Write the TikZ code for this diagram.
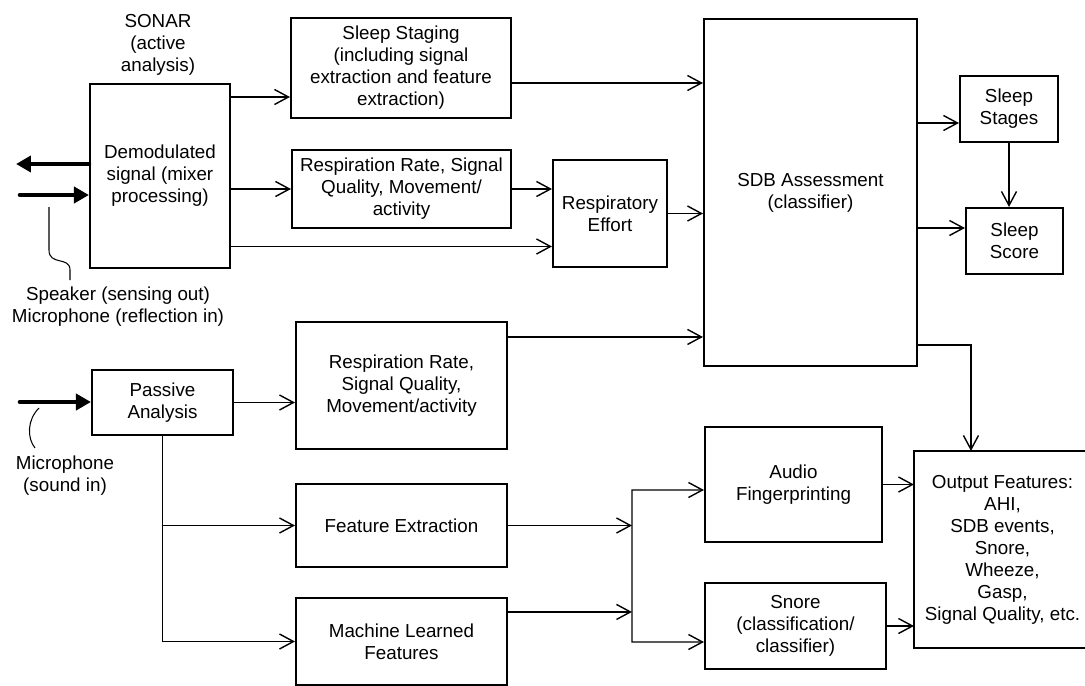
\documentclass[tikz,border=0pt]{standalone}
\usepackage{fontspec}
\setmainfont{Liberation Sans}
\usetikzlibrary{positioning, arrows.meta, calc}

\begin{document}
\begin{tikzpicture}[
    x=0.02cm, y=-0.02cm,
    font=\fontsize{10.7}{12.5}\selectfont,
    block/.style={
        draw,
        line width=1.2pt,
        align=center,
        inner sep=2pt
    },
    openblock/.style={
        block,
        draw=none
    },
    link/.style={
        >={Straight Barb[length=2.8mm, width=3mm]},
        ->,
        line width=0.8pt
    },
    frame/.style={
        line width=1.2pt
    },
    fatarrow/.style={
        >={Triangle[length=3mm, width=3.2mm]},
        ->,
        line width=2.6pt,
        line cap=round
    },
    leader/.style={
        line width=0.6pt
    }
]
    \useasboundingbox (0,0) rectangle (1085,686);

    % Nodes
    \node[align=center] (sonar) at (158,45) {SONAR\\(active\\analysis)};
    \node[block, minimum width=2.8cm, minimum height=3.68cm] (demod) at (160,176) {Demodulated\\signal (mixer\\processing)};
    \node[block, minimum width=4.4cm, minimum height=2cm] (staging) at (401,68) {Sleep Staging\\(including signal\\extraction and feature\\extraction)};
    \node[block, minimum width=4.38cm, minimum height=1.56cm] (resp1) at (401.5,189) {Respiration Rate, Signal\\Quality, Movement/\\activity};
    \node[block, minimum width=2.28cm, minimum height=2.14cm] (effort) at (610,213.5) {Respiratory\\Effort};
    \node[block, minimum width=4.26cm, minimum height=6.94cm] (sdb) at (810.5,192.5) {SDB Assessment\\(classifier)};
    \node[block, minimum width=1.96cm, minimum height=1.32cm] (stages) at (1009,109) {Sleep\\Stages};
    \node[block, minimum width=1.94cm, minimum height=1.32cm] (score) at (1014.5,241) {Sleep\\Score};

    \node[block, minimum width=2.82cm, minimum height=1.3cm] (passive) at (162.5,402.5) {Passive\\Analysis};
    \node[block, minimum width=4.22cm, minimum height=2.54cm] (resp2) at (401.5,385.5) {Respiration Rate,\\Signal Quality,\\Movement/activity};
    \node[block, minimum width=4.22cm, minimum height=1.66cm] (featx) at (401.5,525.5) {Feature Extraction};
    \node[block, minimum width=4.22cm, minimum height=1.74cm] (mlf) at (401.5,641.5) {Machine Learned\\Features};
    \node[block, minimum width=3.54cm, minimum height=2.3cm] (audio) at (793.5,484.5) {Audio\\Fingerprinting};
    \node[block, minimum width=3.62cm, minimum height=1.72cm] (snore) at (795.5,626) {Snore\\(classification/\\classifier)};
    \node[openblock, minimum width=3.5cm, minimum height=3.9cm] (output) at (1002.5,549.5) {Output Features:\\AHI,\\SDB events,\\Snore,\\Wheeze,\\Gasp,\\Signal Quality, etc.};
    % box runs off the right edge of the page
    \draw[frame] (output.north east) -- (output.north west) -- (output.south west) -- (output.south east);

    % Sensor labels
    \node[align=center] (spklbl) at (118,307) {Speaker (sensing out)\\Microphone (reflection in)};
    \node[align=center] (miclbl) at (65,476) {Microphone\\(sound in)};

    % Sensor arrows
    \coordinate (spkout) at (16,164);
    \coordinate (micrefl) at (20,195);
    \coordinate (micsnd) at (20,402);
    \draw[fatarrow] (demod.west |- spkout) -- (spkout);
    \draw[fatarrow] (micrefl) -- (micrefl -| demod.west);
    \draw[fatarrow] (micsnd) -- (micsnd -| passive.west);

    % Leaders to the labels
    \coordinate (spktop) at (49,207);
    \coordinate (spkfoot) at (70,280);
    \draw[leader] (spktop) -- (49,250) .. controls (49,266) and (70,256) .. (70,270) -- (spkfoot);
    \coordinate (mictop) at (39,408);
    \coordinate (micfoot) at (35,448);
    \draw[leader] (mictop) .. controls (27,420) and (27,438) .. (micfoot);

    % Active (sonar) path
    \path (staging.west) ++(0,29) coordinate (stin);
    \draw[link] (demod.east |- stin) -- (stin);
    \path (staging.east) ++(0,15) coordinate (stout);
    \draw[link] (stout) -- (stout -| sdb.west);
    \draw[link] (demod.east |- resp1.west) -- (resp1.west);
    \draw[link] (resp1.east) -- (resp1.east -| effort.west);
    \path (effort.west) ++(0,33) coordinate (effin);
    \draw[link] (demod.east |- effin) -- (effin);
    \draw[link] (effort.east) -- (effort.east -| sdb.west);

    % SDB outputs
    \path (stages.west) ++(0,14) coordinate (stgin);
    \draw[link] (sdb.east |- stgin) -- (stgin);
    \path (score.west) ++(0,-13) coordinate (scrin);
    \draw[link] (sdb.east |- scrin) -- (scrin);
    \draw[link] (stages.south) -- (stages.south |- score.north);
    \path (sdb.south east) ++(0,-22) coordinate (sdbout);
    \path (output.north west) ++(57,0) coordinate (outin);
    \draw[link] (sdbout) -| (outin);

    % Passive path
    \draw[link] (passive.east) -- (passive.east -| resp2.west);
    \path (resp2.north east) ++(0,16) coordinate (r2out);
    \draw[link] (r2out) -- (r2out -| sdb.west);
    \draw[link] (passive.south) |- (mlf.west);
    \draw[link] (passive.south |- featx.west) -- (featx.west);

    % Junction to audio / snore
    \path (audio.west) ++(-72,5.5) coordinate (jtop);
    \path (snore.west) ++(-72,16) coordinate (jbot);
    \draw[link, <->] (jtop -| audio.west) -- (jtop) -- (jbot) -- (jbot -| snore.west);
    \draw[link] (featx.east) -- (featx.east -| jtop);
    \path (mlf.north east) ++(0,15) coordinate (mlout);
    \draw[link] (mlout) -- (mlout -| jtop);
    \draw[link] (audio.east) -- (audio.east -| output.west);
    \draw[link] (snore.east) -- (snore.east -| output.west);

\end{tikzpicture}
\end{document}
